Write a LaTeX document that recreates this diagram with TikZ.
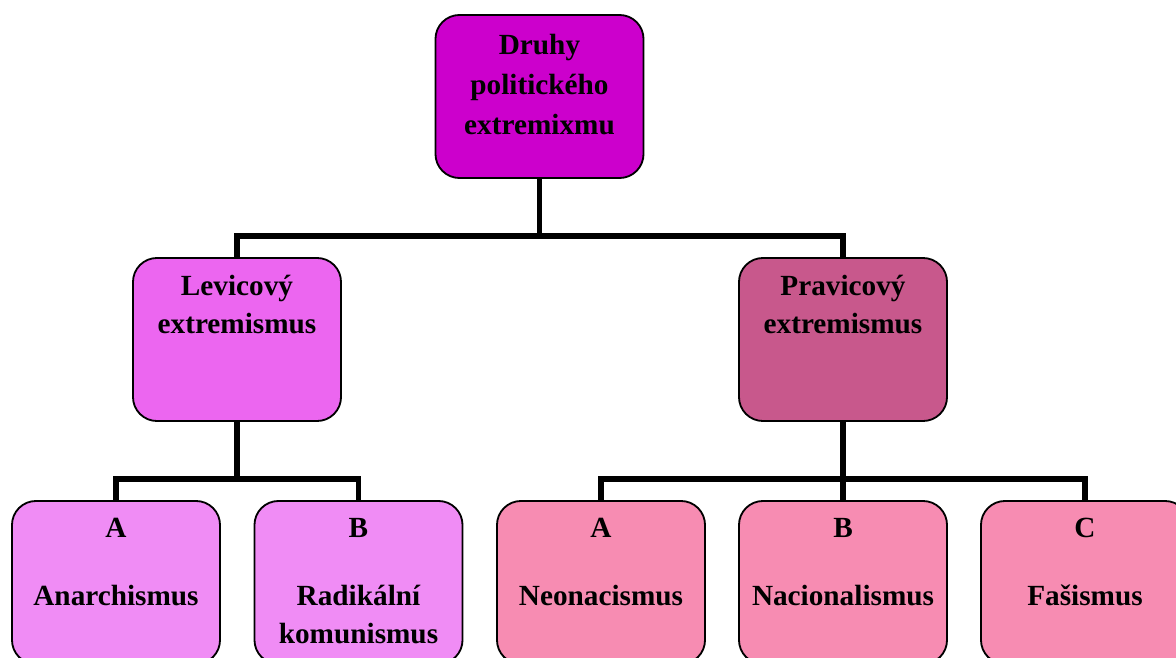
\documentclass[tikz,border=0pt]{standalone}
\usepackage{fontspec}
\setmainfont{Liberation Serif}
\usetikzlibrary{positioning}
\definecolor{topmag}{HTML}{CC00CC}
\definecolor{leftmag}{HTML}{EC66F0}
\definecolor{rightrose}{HTML}{C8588C}
\definecolor{leftpale}{HTML}{F08CF5}
\definecolor{rightpink}{HTML}{F78CB2}

\begin{document}
\begin{tikzpicture}[x=0.025cm,y=-0.025cm,
  box/.style={draw,line width=1.3pt,rounded corners=0.6cm,minimum width=5.2cm,minimum height=4.075cm,inner sep=0pt},
  txt/.style={align=center,inner sep=0pt,font=\fontsize{20.8}{27}\selectfont\bfseries},
  link/.style={line width=3.7pt}]
\clip (0,0) rectangle (1176,657);

% main box
\node[box,fill=topmag] (top) at (539.5,96.5) {};
\node[txt,font=\fontsize{20.8}{28.4}\selectfont\bfseries,below=0.5cm of top.north] (toptxt) {Druhy\\politického\\extremixmu};

% second level
\node[box,fill=leftmag] (lev) at (237,339.5) {};
\node[txt,below=0.45cm of lev.north] (levtxt) {Levicový\\extremismus};
\node[box,fill=rightrose] (prav) at (843,339.5) {};
\node[txt,below=0.45cm of prav.north] (pravtxt) {Pravicový\\extremismus};

% third level
\node[box,fill=leftpale] (anar) at (116,582.5) {};
\node[txt,below=0.45cm of anar.north] (anartxt) {A\\[0.75cm]Anarchismus};
\node[box,fill=leftpale] (komu) at (358.5,582.5) {};
\node[txt,below=0.45cm of komu.north] (komutxt) {B\\[0.75cm]Radikální\\komunismus};
\node[box,fill=rightpink] (neo) at (601,582.5) {};
\node[txt,below=0.45cm of neo.north] (neotxt) {A\\[0.75cm]Neonacismus};
\node[box,fill=rightpink] (naci) at (843,582.5) {};
\node[txt,below=0.45cm of naci.north] (nacitxt) {B\\[0.75cm]Nacionalismus};
\node[box,fill=rightpink] (fasi) at (1085,582.5) {};
\node[txt,below=0.45cm of fasi.north] (fasitxt) {C\\[0.75cm]Fašismus};

% links
\draw[link] (top.south) -- ++(0,57) -| (lev.north);
\draw[link] (top.south) -- ++(0,57) -| (prav.north);
\draw[link] (lev.south) -- ++(0,57) -| (anar.north);
\draw[link] (lev.south) -- ++(0,57) -| (komu.north);
\draw[link] (prav.south) -- ++(0,57) -| (neo.north);
\draw[link] (prav.south) -- (naci.north);
\draw[link] (prav.south) -- ++(0,57) -| (fasi.north);

\end{tikzpicture}
\end{document}
